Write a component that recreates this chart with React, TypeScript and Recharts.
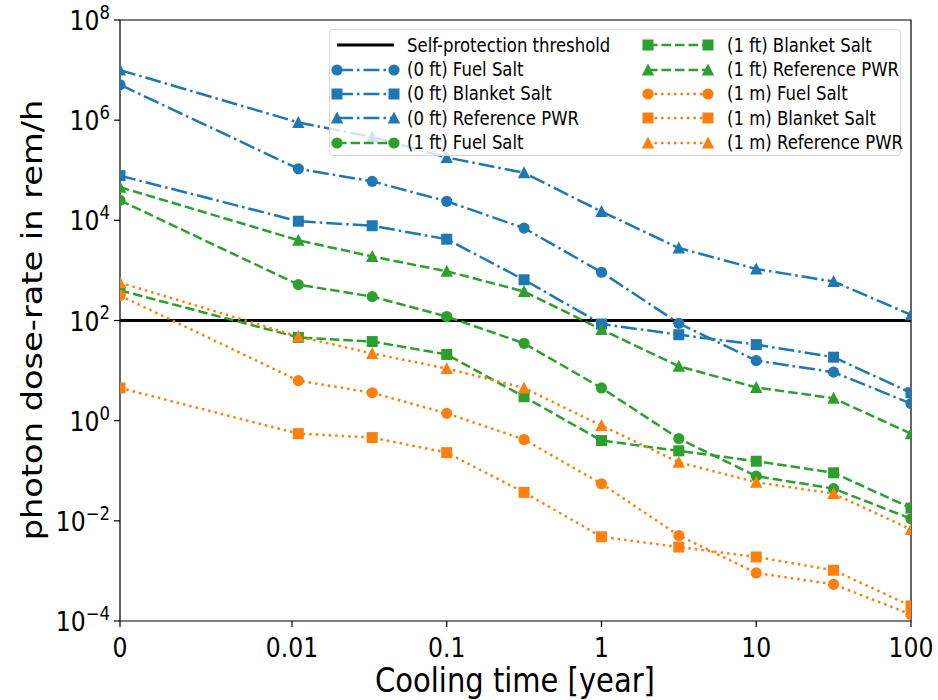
import { LineChart, Line, XAxis, YAxis, ReferenceArea, Label } from "recharts";

// cooling time in years, symlog x axis (linthresh 0.01)
const TIMES = [0, 0.011, 0.033, 0.1, 0.316, 1, 3.16, 10, 31.6, 100];

const FUEL_0FT = [5.1e6, 1.07e5, 6.0e4, 2.4e4, 7.0e3, 920, 88, 15.8, 9.3, 2.2];
const BLANKET_0FT = [7.8e4, 9.6e3, 7.8e3, 4.2e3, 650, 85, 52, 33, 18.5, 3.6];
const PWR_0FT = [1.0e7, 9.0e5, 4.6e5, 1.8e5, 8.9e4, 1.5e4, 2.8e3, 1.07e3, 600, 130];
const FUEL_1FT = [2.5e4, 520, 300, 120, 35, 4.5, 0.44, 0.078, 0.044, 0.011];
const BLANKET_1FT = [400, 46, 38, 21, 3.0, 0.4, 0.25, 0.155, 0.091, 0.018];
const PWR_1FT = [4.6e4, 4.0e3, 1.9e3, 960, 380, 66, 12.2, 4.6, 2.8, 0.55];
const FUEL_1M = [316, 6.3, 3.6, 1.4, 0.42, 0.055, 0.0051, 0.00091, 0.00054, 0.000135];
const BLANKET_1M = [4.5, 0.55, 0.46, 0.23, 0.037, 0.0048, 0.003, 0.0019, 0.00103, 0.0002];
const PWR_1M = [570, 48, 22, 11, 4.5, 0.8, 0.148, 0.059, 0.035, 0.0067];
const THRESHOLD = 100;

const X_TICKS = [0, 0.01, 0.1, 1, 10, 100];
const X_TICK_LABELS = ["0", "0.01", "0.1", "1", "10", "100"];
const Y_TICKS = [1e-4, 1e-2, 1, 1e2, 1e4, 1e6, 1e8];

const BLUE = "#1f77b4";
const ORANGE = "#ff7f0e";
const GREEN = "#2ca02c";
const FONT = "DejaVu Sans, sans-serif";
const STRETCH = 1.16; // glyphs in the reference are a bit taller than wide

const DASHDOT = "16 4 2.5 4";
const DASHED = "9.5 4";
const DOTTED = "2.5 4";

const LINTHRESH = 0.01;
const LINSCALE = 1 / (1 - 1 / 10);
const sym = (t: number) => (t <= LINTHRESH ? (t / LINTHRESH) * LINSCALE : LINSCALE + Math.log10(t / LINTHRESH));
const XMAX = sym(100);

const SERIES = [
  { key: "fuel0", name: "(0 ft) Fuel Salt", vals: FUEL_0FT, color: BLUE, dash: DASHDOT, shape: "circle" },
  { key: "blanket0", name: "(0 ft) Blanket Salt", vals: BLANKET_0FT, color: BLUE, dash: DASHDOT, shape: "square" },
  { key: "pwr0", name: "(0 ft) Reference PWR", vals: PWR_0FT, color: BLUE, dash: DASHDOT, shape: "triangle" },
  { key: "fuel1", name: "(1 ft) Fuel Salt", vals: FUEL_1FT, color: GREEN, dash: DASHED, shape: "circle" },
  { key: "blanket1", name: "(1 ft) Blanket Salt", vals: BLANKET_1FT, color: GREEN, dash: DASHED, shape: "square" },
  { key: "pwr1", name: "(1 ft) Reference PWR", vals: PWR_1FT, color: GREEN, dash: DASHED, shape: "triangle" },
  { key: "fuelm", name: "(1 m) Fuel Salt", vals: FUEL_1M, color: ORANGE, dash: DOTTED, shape: "circle" },
  { key: "blanketm", name: "(1 m) Blanket Salt", vals: BLANKET_1M, color: ORANGE, dash: DOTTED, shape: "square" },
  { key: "pwrm", name: "(1 m) Reference PWR", vals: PWR_1M, color: ORANGE, dash: DOTTED, shape: "triangle" },
];

const data = TIMES.map((t, i) => {
  const row: Record<string, number> = { x: sym(t), threshold: THRESHOLD };
  SERIES.forEach(s => { row[s.key] = s.vals[i]; });
  return row;
});

function Marker({ cx, cy, shape, color }: any) {
  if (cx == null || cy == null) return null;
  if (shape === "circle") return <circle cx={cx} cy={cy} r={5.6} fill={color} />;
  if (shape === "square") return <rect x={cx - 5.5} y={cy - 5.5} width={11} height={11} fill={color} />;
  return <polygon points={`${cx},${cy - 6.5} ${cx - 6.2},${cy + 5.5} ${cx + 6.2},${cy + 5.5}`} fill={color} />;
}

const dotFor = (shape: string, color: string) => (p: any) => (
  <Marker key={p.key ?? `${p.index}`} cx={p.cx} cy={p.cy} shape={shape} color={color} />
);

function YTick({ x, y, payload }: any) {
  const exp = Math.round(Math.log10(payload.value));
  const s = exp < 0 ? `\u2212${-exp}` : `${exp}`;
  return (
    <text transform={`translate(${x},${y + 10}) scale(1,${STRETCH})`} textAnchor="end" fontFamily={FONT} fontSize={23.5} fill="#000">
      10<tspan fontSize={16.5} dy={-9.5}>{s}</tspan>
    </text>
  );
}

function XTick({ x, y, payload }: any) {
  const i = X_TICKS.findIndex(t => Math.abs(sym(t) - payload.value) < 1e-6);
  return (
    <text transform={`translate(${x},${y + 28}) scale(1,${STRETCH})`} textAnchor="middle" fontFamily={FONT} fontSize={23.5} fill="#000">
      {X_TICK_LABELS[i]}
    </text>
  );
}

function Handle({ color, dash, shape, width }: any) {
  return (
    <svg width={width + 14} height={20} style={{ display: "block" }}>
      <line x1={7} y1={10} x2={width + 7} y2={10} stroke={color} strokeWidth={2.5} strokeDasharray={dash} />
      {shape && <Marker cx={7} cy={10} shape={shape} color={color} />}
      {shape && <Marker cx={width + 7} cy={10} shape={shape} color={color} />}
    </svg>
  );
}

function LegendBox() {
  const items = [
    { name: "Self-protection threshold", color: "#000", dash: undefined, shape: null },
    ...SERIES.map(s => ({ name: s.name, color: s.color, dash: s.dash, shape: s.shape })),
  ];
  const cols = [items.slice(0, 5), items.slice(5)];
  return (
    <div style={{
      position: "absolute", left: 329, top: 29, width: 572, height: 127, boxSizing: "border-box",
      background: "rgba(255,255,255,0.8)", border: "1px solid #d6d6d6", borderRadius: 4,
      fontFamily: FONT, fontSize: 16.5, color: "#000",
    }}>
      {cols.map((col, c) => (
        <div key={c} style={{ position: "absolute", left: c === 0 ? 0 : 309, top: 3 }}>
          {col.map(it => (
            <div key={it.name} style={{ display: "flex", alignItems: "center", height: 24.4, whiteSpace: "nowrap" }}>
              <div style={{ width: c === 0 ? 77 : 88 }}>
                <div style={{ marginLeft: c === 0 ? 0 : 2 }}>
                  {it.shape ? (
                    <Handle color={it.color} dash={it.dash} shape={it.shape} width={c === 0 ? 57 : 60} />
                  ) : (
                    <svg width={71} height={20} style={{ display: "block" }}>
                      <line x1={7} y1={10} x2={64} y2={10} stroke="#000" strokeWidth={2.8} />
                    </svg>
                  )}
                </div>
              </div>
              <span style={{ display: "inline-block", transform: `scaleY(${STRETCH})` }}>{it.name}</span>
            </div>
          ))}
        </div>
      ))}
    </div>
  );
}

export default function App() {
  return (
    <div style={{ position: "absolute", left: 0, top: 0, width: 938, height: 700, background: "#fff" }}>
      <LineChart width={938} height={700} data={data} margin={{ top: 20, right: 27, left: 0, bottom: 0 }}>
        <XAxis
          dataKey="x" type="number" domain={[0, XMAX]} ticks={X_TICKS.map(sym)} allowDataOverflow
          height={79} tickSize={6} tickLine={{ stroke: "#000", strokeWidth: 1.2 }} axisLine={false}
          tick={<XTick />} interval={0}
        >
          <Label
            content={() => (
              <text transform={`translate(515,692) scale(1,${STRETCH})`} textAnchor="middle" fontFamily={FONT} fontSize={29} fill="#000">
                Cooling time [year]
              </text>
            )}
          />
        </XAxis>
        <YAxis
          type="number" scale="log" domain={[1e-4, 1e8]} ticks={Y_TICKS} allowDataOverflow
          width={120} tickSize={6} tickMargin={4} tickLine={{ stroke: "#000", strokeWidth: 1.2 }} axisLine={false}
          tick={<YTick />} interval={0}
        >
          <Label
            content={() => (
              <text transform={`translate(42,320) scale(1,${STRETCH}) rotate(-90)`} textAnchor="middle" fontFamily={FONT} fontSize={29} fill="#000">
                photon dose-rate in rem/h
              </text>
            )}
          />
        </YAxis>
        <Line
          dataKey="threshold" stroke="#000" strokeWidth={2.8} dot={false} activeDot={false}
          isAnimationActive={false} legendType="none"
        />
        {SERIES.map(s => (
          <Line
            key={s.key} dataKey={s.key} name={s.name} stroke={s.color} strokeWidth={2.5}
            strokeDasharray={s.dash} dot={dotFor(s.shape, s.color)} activeDot={false}
            isAnimationActive={false} legendType="none"
          />
        ))}
        <ReferenceArea x1={0} x2={XMAX} y1={1e-4} y2={1e8} fill="none" stroke="#000" strokeWidth={1.2} ifOverflow="visible" />
      </LineChart>
      <LegendBox />
    </div>
  );
}
